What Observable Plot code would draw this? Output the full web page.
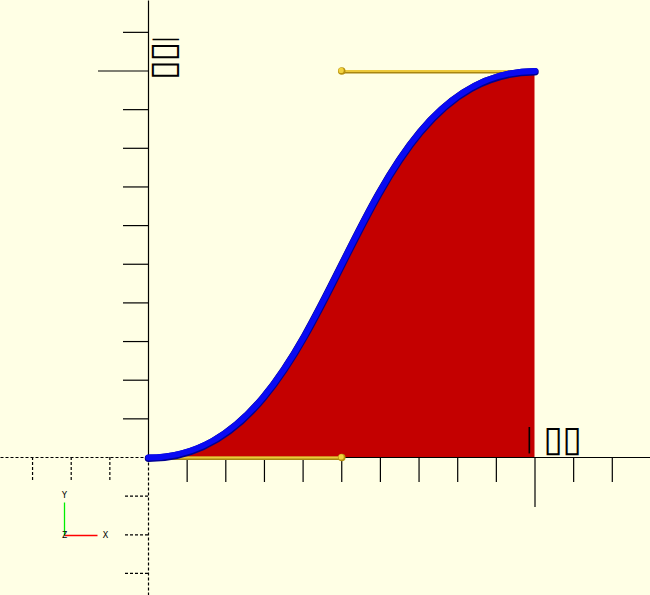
<!DOCTYPE html>
<html>
<head>
<meta charset="utf-8">
<script src="https://cdn.jsdelivr.net/npm/d3@7"></script>
<script src="https://cdn.jsdelivr.net/npm/@observablehq/plot@0.6"></script>
<style>
  html, body { margin: 0; padding: 0; background: #ffffe5; }
  #chart svg { display: block; }
</style>
</head>
<body>
<div id="chart"></div>
<script>
// Bezier endpoints (cubic, control points at the x-midpoint -> "bump-x" curve)
const curveX = [0, 10];
const curveY = [0, 10];
// control handles: anchor -> control point
const handleFrom = [[0, 0], [10, 10]];
const handleTo = [[5, 0], [5, 10]];
// axis ticks
const posXTicks = [1, 2, 3, 4, 5, 6, 7, 8, 9, 10, 11, 12];
const negXTicks = [-1, -2, -3];
const posYTicks = [1, 2, 3, 4, 5, 6, 7, 8, 9, 10, 11];
const negYTicks = [-1, -2, -3];
const labelledTick = 10;
const tickLabel = "|▯▯";
const gizmoLabels = ["X", "Y", "Z"];

const W = 650, H = 595;
const unit = 38.65, ox = 148, oy = 457;
const xDomain = [-ox / unit, (W - ox) / unit];
const yDomain = [-(H - oy) / unit, oy / unit];
const px = p => p / unit; // pixel length to data units

const curve = curveX.map((x, i) => ({x, y: curveY[i]}));
const handles = handleFrom.map((a, i) => ({x1: a[0], y1: a[1], x2: handleTo[i][0], y2: handleTo[i][1]}));

const tickLen = t => (t === labelledTick ? px(50) : px(25));
const xTickRows = posXTicks.map(t => ({x: t, y1: 0, y2: -tickLen(t)}));
const yTickRows = posYTicks.map(t => ({y: t, x1: 0, x2: -tickLen(t)}));
const nxTickRows = negXTicks.map(t => ({x: t, y1: 0, y2: -px(24)}));
const nyTickRows = negYTicks.map(t => ({y: t, x1: 0, x2: -px(25)}));

// tick label glyphs, laid out one by one (pixel offsets of each glyph)
const glyphs = [...tickLabel];
const xLabelOff = [[-6, -18.5], [18.5, -18.5], [37.5, -18.5]];
const yLabelOff = [[18.5, -31.5], [19.5, -19], [19.5, -0.5]];
const xLabelRows = glyphs.map((g, i) => ({x: labelledTick, y: 0, g, dx: xLabelOff[i][0], dy: xLabelOff[i][1]}));
const yLabelRows = glyphs.map((g, i) => ({x: 0, y: labelledTick, g, dx: yLabelOff[i][0], dy: yLabelOff[i][1]}));

// gizmo (view axes indicator) placed at a fixed spot of the view
const gx = px(64 - ox), gy = -px(535 - oy), gl = px(33);
const gizmo = [
  {x1: gx, y1: gy, x2: gx + gl, y2: gy, c: "#ff0000"},
  {x1: gx, y1: gy, x2: gx, y2: gy + gl, c: "#00ee00"}
];
const gizmoText = [
  {x: gx + gl + px(8), y: gy, t: gizmoLabels[0]},
  {x: gx, y: gy + gl + px(7), t: gizmoLabels[1]},
  {x: gx, y: gy, t: gizmoLabels[2]}
];

const glyphMarks = (rows, rotate) => [
  ...rows.map(r => Plot.text([r], {
    x: "x", y: "y", text: "g", dx: r.dx, dy: r.dy, rotate,
    textAnchor: "middle", lineAnchor: "middle",
    fontSize: r.g === "|" ? 31 : 36,
    fontFamily: r.g === "|" ? "Roboto, Inter, DejaVu Sans" : "DejaVu Sans",
    fontWeight: r.g === "|" ? 300 : 400,
    fill: "black"
  }))
];

const chart = Plot.plot({
  width: W, height: H,
  margin: 0,
  x: {domain: xDomain, axis: null},
  y: {domain: yDomain, axis: null},
  style: {background: "#ffffe5", fontFamily: "DejaVu Sans"},
  marks: [
    // filled area under the bezier
    Plot.areaY(curve, {x: "x", y: "y", y1: 0, curve: "bump-x", fill: "#c40000"}),
    // axes
    Plot.link([{x1: 0, y1: 0, x2: xDomain[1], y2: 0}, {x1: 0, y1: 0, x2: 0, y2: yDomain[1]}],
      {x1: "x1", y1: "y1", x2: "x2", y2: "y2", stroke: "black", strokeWidth: 1.2}),
    Plot.link([{x1: xDomain[0], y1: 0, x2: 0, y2: 0}, {x1: 0, y1: yDomain[0], x2: 0, y2: 0}],
      {x1: "x1", y1: "y1", x2: "x2", y2: "y2", stroke: "black", strokeWidth: 1.2, strokeDasharray: "3,2"}),
    Plot.ruleX(xTickRows, {x: "x", y1: "y1", y2: "y2", stroke: "black", strokeWidth: 1.2}),
    Plot.ruleY(yTickRows, {y: "y", x1: "x1", x2: "x2", stroke: "black", strokeWidth: 1.2}),
    Plot.ruleX(nxTickRows, {x: "x", y1: "y1", y2: "y2", stroke: "black", strokeWidth: 1.2, strokeDasharray: "3,2"}),
    Plot.ruleY(nyTickRows, {y: "y", x1: "x1", x2: "x2", stroke: "black", strokeWidth: 1.2, strokeDasharray: "3,2"}),
    // tick labels for 10
    ...glyphMarks(xLabelRows, 0),
    ...glyphMarks(yLabelRows, 90),
    // control handles
    Plot.link(handles, {x1: "x1", y1: "y1", x2: "x2", y2: "y2", stroke: "#a88612", strokeWidth: 3.5, dy: 0.8}),
    Plot.link(handles, {x1: "x1", y1: "y1", x2: "x2", y2: "y2", stroke: "#ecc83a", strokeWidth: 2}),
    // bezier curve
    Plot.line(curve, {x: "x", y: "y", curve: "bump-x", stroke: "#00008e", strokeWidth: 7.5, strokeLinecap: "round", dy: 0.8}),
    Plot.line(curve, {x: "x", y: "y", curve: "bump-x", stroke: "#0a0af2", strokeWidth: 6, strokeLinecap: "round"}),
    // control point spheres
    Plot.dot(handles, {x: "x2", y: "y2", r: 3.8, fill: "#b8920e"}),
    Plot.dot(handles, {x: "x2", y: "y2", r: 2.6, fill: "#f2d23e", dx: -0.6, dy: -0.6}),
    // view axes gizmo
    Plot.link(gizmo, {x1: "x1", y1: "y1", x2: "x2", y2: "y2", stroke: "c", strokeWidth: 1.3}),
    Plot.text(gizmoText, {x: "x", y: "y", text: "t", fontSize: 9, fill: "black", fontFamily: "DejaVu Sans Mono"})
  ]
});
document.getElementById("chart").appendChild(chart);
</script>
</body>
</html>
